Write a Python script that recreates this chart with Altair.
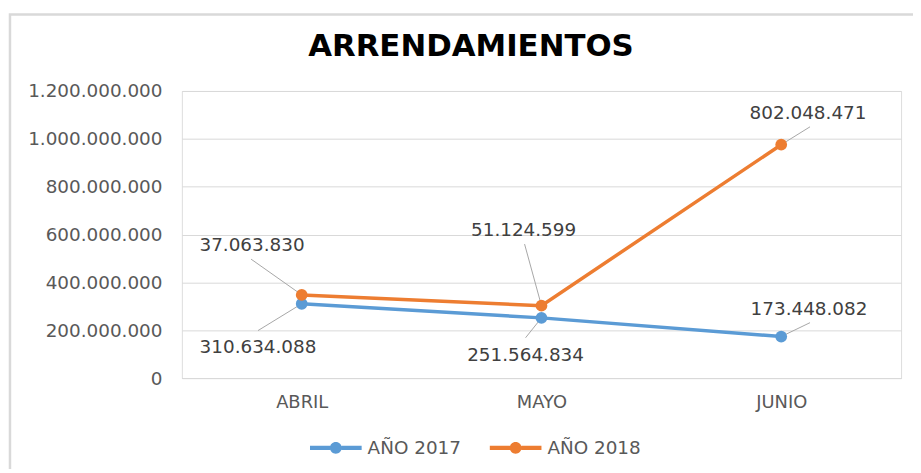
import altair as alt
import pandas as pd

months = ["ABRIL", "MAYO", "JUNIO"]
series = ["AÑO 2017", "AÑO 2018"]
values_2017 = [310634088, 251564834, 173448082]
values_2018 = [37063830, 51124599, 802048471]
colors = ["#5B9BD5", "#ED7D31"]
y_ticks = [0, 200000000, 400000000, 600000000, 800000000, 1000000000, 1200000000]

rows = []
for s_i, (s, vals) in enumerate(zip(series, [values_2017, values_2018])):
    for m, v in zip(months, vals):
        rows.append({"month": m, "serie": s, "value": v, "sorder": s_i,
                     "label": f"{v:,}".replace(",", ".")})
df = pd.DataFrame(rows)

FONT = "DejaVu Sans"
GRAY = "#595959"

base = alt.Chart(df).transform_stack(
    stack="value", groupby=["month"], as_=["y0", "y1"],
    sort=[alt.SortField("sorder", order="ascending")]
)

x = alt.X("month:N", sort=months, scale=alt.Scale(type="point", padding=0.5),
          axis=alt.Axis(title=None, labelAngle=0, ticks=False, domain=True,
                        domainColor="#d9d9d9", labelFont=FONT, labelFontSize=18,
                        labelColor=GRAY, labelPadding=16, grid=False))
y = alt.Y("y1:Q", scale=alt.Scale(domain=[0, 1200000000]),
          axis=alt.Axis(title=None, values=y_ticks, ticks=False, domain=False,
                        gridColor="#d9d9d9", gridWidth=1,
                        labelExpr="replace(format(datum.value, ','), regexp(',', 'g'), '.')",
                        labelFont=FONT, labelFontSize=18.5, labelColor=GRAY,
                        labelPadding=20))

sym = ("M-1,-0.08L-0.22,-0.08L-0.22,0.08L-1,0.08Z "
       "M0.22,-0.08L1,-0.08L1,0.08L0.22,0.08Z "
       "M0.23,0A0.23,0.23,0,1,1,-0.23,0A0.23,0.23,0,1,1,0.23,0Z")
legend = alt.Legend(title=None, orient="none", direction="horizontal",
                    legendX=129, legendY=333, symbolType=sym, symbolSize=2704,
                    symbolStrokeWidth=0, labelFont=FONT, labelFontSize=18.5,
                    labelColor=GRAY, labelOffset=6, columnPadding=28)
color = alt.Color("serie:N", scale=alt.Scale(domain=series, range=colors), legend=legend)

line = base.mark_line(strokeWidth=3.5).encode(x=x, y=y, color=color)
points = base.mark_point(filled=True, size=140, opacity=1).encode(x=x, y=y, color=color)

# label offsets (style): serie, month, dx, dy, leader end x offset, leader end y offset
label_pos = [
    ("AÑO 2018", "ABRIL", -50, -50, -51, -36),
    ("AÑO 2017", "ABRIL", -44, 44, -44, 27),
    ("AÑO 2018", "MAYO", -18, -76, -17, -62),
    ("AÑO 2017", "MAYO", -16, 37, -16, 20),
    ("AÑO 2018", "JUNIO", 27, -32, 29, -18),
    ("AÑO 2017", "JUNIO", 28, -28, 29, -14),
]

leaders = []
texts = []
for s, m, dx, dy, x2o, y2o in label_pos:
    f = base.transform_filter((alt.datum.serie == s) & (alt.datum.month == m))
    leaders.append(f.mark_rule(color="#a6a6a6", strokeWidth=1, x2Offset=x2o, y2Offset=y2o)
                   .encode(x=x, y=y, x2="month:N", y2="y1:Q"))
    texts.append(f.mark_text(dx=dx, dy=dy, font=FONT, fontSize=18.5, color="#404040",
                             baseline="middle", align="center")
                 .encode(x=x, y=y, text="label:N"))

frame = alt.Chart(pd.DataFrame({"a": [0]})).mark_rect(
    fill=None, stroke="#d9d9d9", strokeWidth=2.5
).encode(x=alt.value(-173), x2=alt.value(780), y=alt.value(-77), y2=alt.value(440))

chart = alt.layer(frame, *leaders, line, points, *texts).properties(
    width=724, height=289,
    title=alt.TitleParams("ARRENDAMIENTOS", font=FONT, fontSize=31, fontWeight="bold",
                          color="#000000", anchor="middle", dx=-71, offset=-74,
                          baseline="alphabetic"),
    padding={"left": 175, "top": 82, "right": 12, "bottom": 90},
    autosize=alt.AutoSizeParams(type="none"),
).configure_view(stroke=None).configure(background="#ffffff")

chart.save("out.html", embed_options={"renderer": "svg", "actions": False})
